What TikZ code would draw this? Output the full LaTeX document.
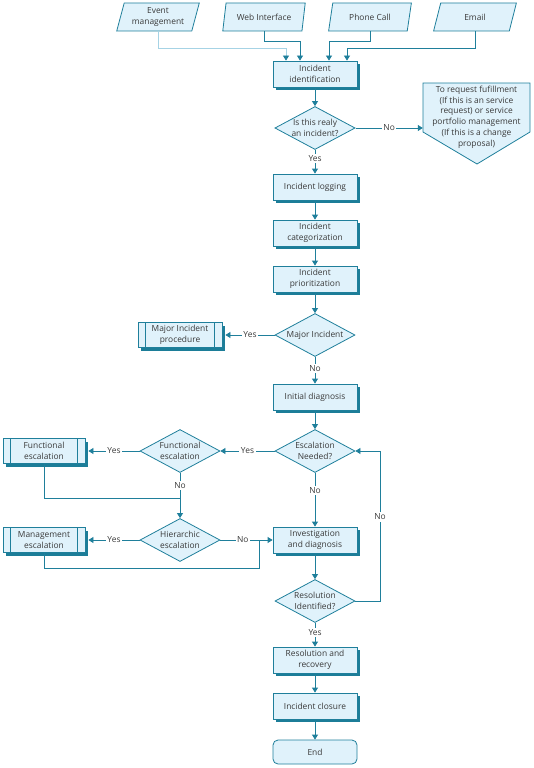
\documentclass[tikz,border=0pt]{standalone}
\usepackage{fontspec}
\setmainfont{Open Sans}
\usetikzlibrary{shapes.geometric,arrows.meta,shadows}
\definecolor{edge}{HTML}{1F7F9B}
\definecolor{boxfill}{HTML}{E0F2FB}
\definecolor{shade}{HTML}{1C7D98}
\definecolor{inkgray}{HTML}{3A3A3A}
\definecolor{pale}{HTML}{A6D3E5}
\tikzset{
  base/.style={draw=edge,fill=boxfill,line width=0.8pt,text=inkgray,align=center,font=\fontsize{8.4}{11}\selectfont},
  proc/.style={base,minimum width=84pt,minimum height=26pt,inner sep=2pt,drop shadow={shadow xshift=3pt,shadow yshift=-3pt,fill=shade,opacity=1}},
  pre/.style={proc,minimum width=82pt,minimum height=25pt},
  dec/.style={base,diamond,aspect=1.9,inner sep=0pt,minimum width=80pt,minimum height=43pt},
  io/.style={base,trapezium,trapezium left angle=74,trapezium right angle=106,trapezium stretches=true,minimum width=83pt,minimum height=28pt,inner sep=1pt},
  term/.style={base,rounded corners=5pt,minimum width=84pt,minimum height=24pt},
  line/.style={draw=edge,line width=0.8pt},
  arr/.style={line,-{Triangle[length=5pt,width=6pt,color=edge]}},
  lbl/.style={fill=white,text=inkgray,inner sep=1.5pt,font=\fontsize{8.4}{9}\selectfont},
}
\begin{document}
\begin{tikzpicture}[x=1pt,y=1pt]
\useasboundingbox (0,0) rectangle (534,-768);

% sources
\node[io] (event) at (158,-17) {Event\\management};
\node[io] (web) at (264,-17) {Web Interface};
\node[io] (phone) at (370,-17) {Phone Call};
\node[io] (email) at (475,-17) {Email};

% main column
\node[proc] (ident) at (315,-74) {Incident\\identification};
\node[dec] (isinc) at (315,-128) {Is this realy\\an incident?};
\node[proc] (logg) at (315,-187) {Incident logging};
\node[proc] (categ) at (315,-233) {Incident\\categorization};
\node[proc] (prio) at (315,-279) {Incident\\prioritization};
\node[dec] (major) at (315,-335) {Major Incident};
\node[proc] (init) at (315,-397) {Initial diagnosis};
\node[dec] (esc) at (315,-451) {Escalation\\Needed?};
\node[proc] (inv) at (315,-540) {Investigation\\and diagnosis};
\node[dec] (res) at (315,-601) {Resolution\\Identified?};
\node[proc] (recov) at (315,-660) {Resolution and\\recovery};
\node[proc] (close) at (315,-706) {Incident closure};
\node[term] (endn) at (315,-752) {End};

% side branches
\node[pre,minimum width=84pt] (mip) at (180,-335) {Major Incident\\procedure};
\node[dec] (fdia) at (180,-451) {Functional\\escalation};
\node[pre] (fbox) at (44,-451) {Functional\\escalation};
\node[dec] (hdia) at (180,-540) {Hierarchic\\escalation};
\node[pre] (mbox) at (44,-540) {Management\\escalation};
\foreach \n in {mip,fbox,mbox} {
  \draw[line] ([xshift=8pt]\n.north west) -- ([xshift=8pt]\n.south west);
  \draw[line] ([xshift=-8pt]\n.north east) -- ([xshift=-8pt]\n.south east);
}

% request fulfillment (off-page)
\draw[base] (423,-83) -- (530,-83) -- (530,-132) -- (477,-164) -- (423,-132) -- cycle;
\node[text=inkgray,align=center,font=\fontsize{8.4}{10.8}\selectfont,minimum width=107pt,inner sep=0pt] (req) at (476.5,-117)
  {To request fufillment\\(If this is an service\\request) or service\\portfolio management\\(If this is a change\\proposal)};

% connectors
\draw[arr,draw=pale] (event.south) |- ([xshift=-29pt,yshift=12pt]ident.north) -- ([xshift=-29pt]ident.north);
\draw[arr] (web.south) |- ([xshift=-15pt,yshift=19pt]ident.north) -- ([xshift=-15pt]ident.north);
\draw[arr] (phone.south) |- ([xshift=14pt,yshift=19pt]ident.north) -- ([xshift=14pt]ident.north);
\draw[arr] (email.south) |- ([xshift=32pt,yshift=12pt]ident.north) -- ([xshift=32pt]ident.north);

\draw[arr] (ident) -- (isinc);
\draw[arr] (isinc.east) -- node[lbl]{No} (isinc.east -| req.west);
\draw[arr] (isinc) -- node[lbl,pos=0.35]{Yes} (logg);
\draw[arr] (logg) -- (categ);
\draw[arr] (categ) -- (prio);
\draw[arr] (prio) -- (major);
\draw[arr] (major) -- node[lbl]{Yes} ([xshift=3pt]mip.east);
\draw[arr] (major) -- node[lbl,pos=0.45]{No} (init);
\draw[arr] (init) -- (esc);
\draw[arr] (esc) -- node[lbl]{Yes} (fdia);
\draw[arr] (fdia) -- node[lbl]{Yes} ([xshift=3pt]fbox.east);
\draw[arr] (esc) -- node[lbl,pos=0.33]{No} (inv);

\coordinate (fj) at (180,-498);
\draw[line] (fbox.south) |- (fj);
\draw[arr] (fdia) -- node[lbl,pos=0.28]{No} (hdia);
\draw[arr] (hdia) -- node[lbl]{Yes} ([xshift=3pt]mbox.east);
\draw[arr] (hdia) -- node[lbl,pos=0.43]{No} (inv);
\coordinate (mj) at (259,-540);
\coordinate (mc) at (259,-568);
\draw[line] (mbox.south) |- (mc) -- (mj);

\draw[arr] (inv) -- (res);
\coordinate (rn) at (380,-451);
\draw[arr] (res.east) -| node[lbl,pos=0.78]{No} (rn) -- (esc.east);
\draw[arr] (res) -- node[lbl,pos=0.4]{Yes} (recov);
\draw[arr] (recov) -- (close);
\draw[arr] (close) -- (endn);
\end{tikzpicture}
\end{document}
